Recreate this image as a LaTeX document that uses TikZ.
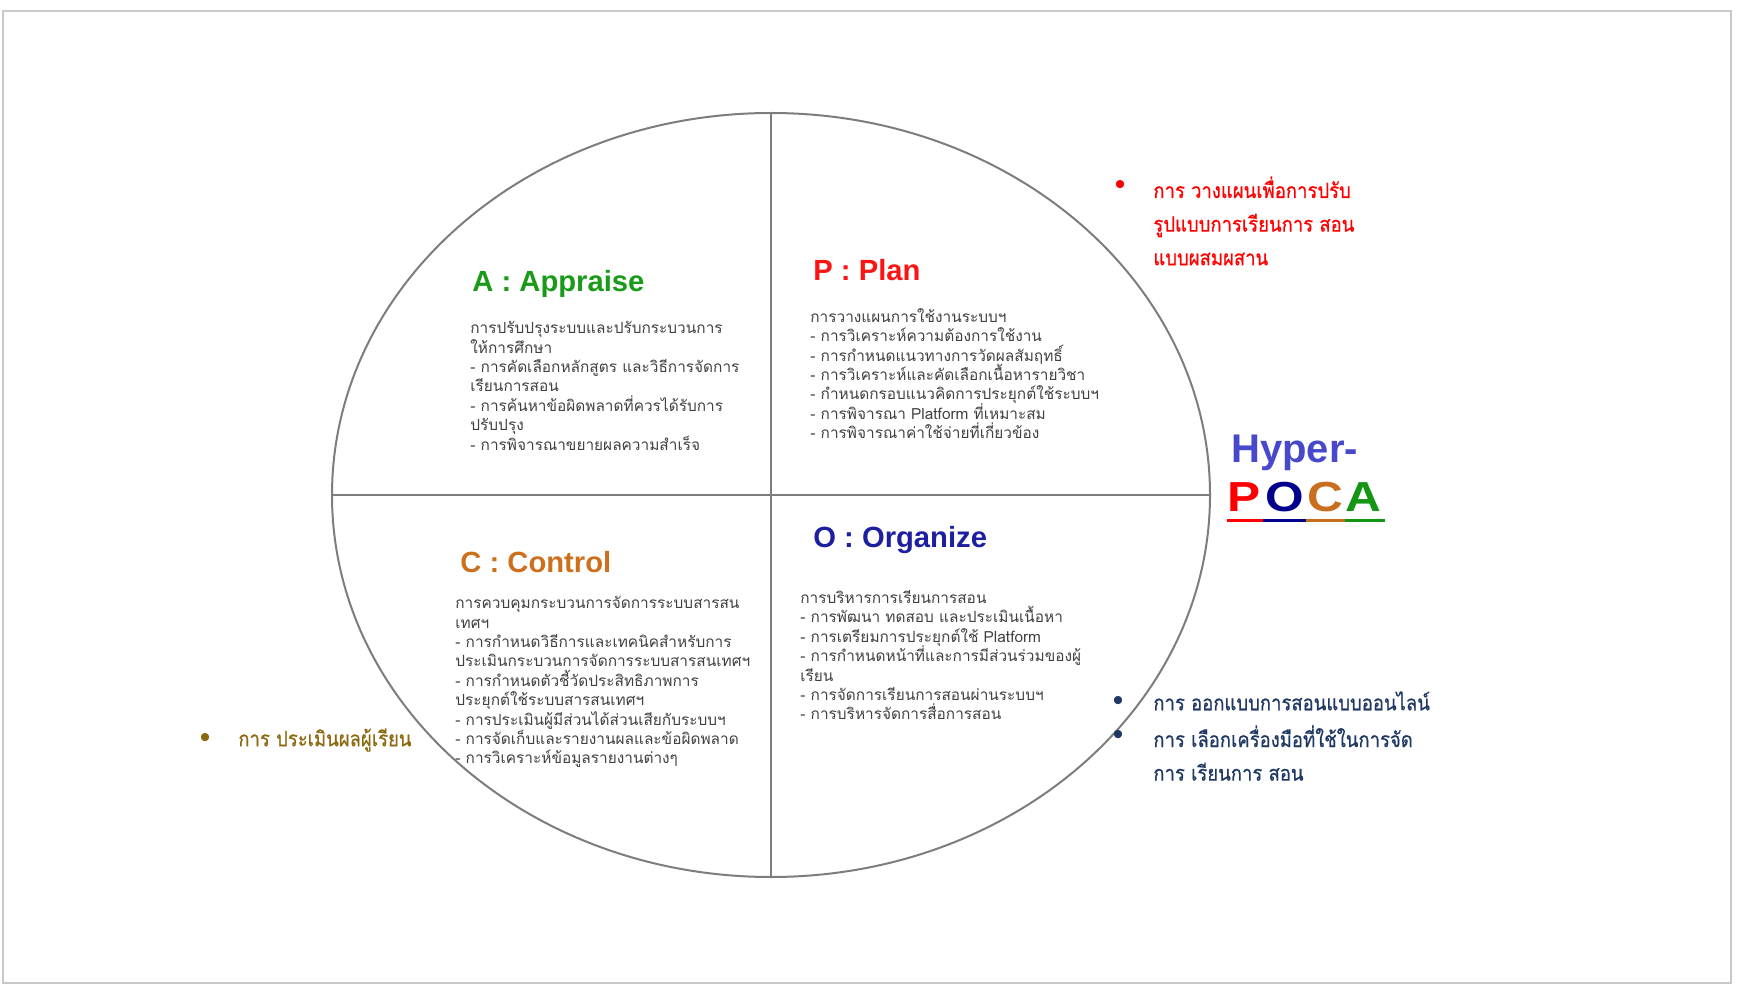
\documentclass[tikz,border=0pt]{standalone}
\usepackage{fontspec}
\setmainfont{Liberation Sans}
\newfontfamily\thai[Script=Thai]{Loma}
\newfontfamily\thaib[Script=Thai,FakeStretch=0.88,FakeBold=0.6]{Loma}
\newfontfamily\pocafont[FakeStretch=1.18]{Liberation Sans}
\usetikzlibrary{shapes.geometric}
\definecolor{framec}{RGB}{200,200,200}
\definecolor{linec}{RGB}{125,125,125}
\definecolor{cA}{RGB}{25,155,25}
\definecolor{cP}{RGB}{250,20,20}
\definecolor{cC}{RGB}{204,112,30}
\definecolor{cO}{RGB}{30,30,160}
\definecolor{bodyc}{RGB}{64,64,64}
\definecolor{hyperc}{RGB}{72,72,204}
\definecolor{pocaP}{RGB}{255,0,0}
\definecolor{pocaO}{RGB}{0,0,140}
\definecolor{pocaC}{RGB}{200,110,30}
\definecolor{pocaA}{RGB}{20,150,20}
\definecolor{redb}{RGB}{255,0,0}
\definecolor{blueb}{RGB}{31,56,100}
\definecolor{goldb}{RGB}{140,105,15}
\begin{document}
\lineskiplimit=-20pt
\lineskip=0pt
\begin{tikzpicture}[x=0.5pt,y=-0.5pt,
  head/.style={inner sep=0pt,anchor=west,font=\fontsize{14.6}{18}\selectfont\bfseries},
  bodytext/.style={inner sep=0pt,anchor=north west,align=left,text=bodyc,font=\thai\fontsize{7.7}{9.7}\selectfont},
  bultext/.style={inner sep=0pt,anchor=north west,align=left,font=\thaib\fontsize{10.5}{16.8}\selectfont},
  bulmark/.style={inner sep=0pt,font=\fontsize{15}{16}\selectfont},
  pocal/.style={inner sep=0pt,font=\pocafont\fontsize{21}{24}\selectfont\bfseries},
  uline/.style={line width=1.5pt}]
\useasboundingbox (0,0) rectangle (1738,989);
\draw[framec,line width=0.6pt] (3,11) rectangle (1731,983);
\node[draw=linec,line width=1pt,ellipse,minimum width=439pt,minimum height=382pt,inner sep=0pt] (E) at (771,495) {};
\draw[linec,line width=1pt] (E.north) -- (E.south);
\draw[linec,line width=1pt] (E.west) -- (E.east);

% headings
\node[head,text=cA] (hA) at (472,284) {A : Appraise};
\node[head,text=cP] (hP) at (813,270) {P : Plan};
\node[head,text=cC] (hC) at (460,562) {C : Control};
\node[head,text=cO] (hO) at (813,540) {O : Organize};

% bodies
\node[bodytext] (bA) at (470,321) {การปรับปรุงระบบและปรับกระบวนการ\\
ให้การศึกษา\\
- การคัดเลือกหลักสูตร และวิธีการจัดการ\\
เรียนการสอน\\
- การค้นหาข้อผิดพลาดที่ควรได้รับการ\\
ปรับปรุง\\
- การพิจารณาขยายผลความสำเร็จ};

\node[bodytext] (bP) at (810,308) {การวางแผนการใช้งานระบบฯ\\
- การวิเคราะห์ความต้องการใช้งาน\\
- การกำหนดแนวทางการวัดผลสัมฤทธิ์\\
- การวิเคราะห์และคัดเลือกเนื้อหารายวิชา\\
- กำหนดกรอบแนวคิดการประยุกต์ใช้ระบบฯ\\
- การพิจารณา Platform ที่เหมาะสม\\
- การพิจารณาค่าใช้จ่ายที่เกี่ยวข้อง};

\node[bodytext] (bC) at (455,596) {การควบคุมกระบวนการจัดการระบบสารสน\\
เทศฯ\\
- การกำหนดวิธีการและเทคนิคสำหรับการ\\
ประเมินกระบวนการจัดการระบบสารสนเทศฯ\\
- การกำหนดตัวชี้วัดประสิทธิภาพการ\\
ประยุกต์ใช้ระบบสารสนเทศฯ\\
- การประเมินผู้มีส่วนได้ส่วนเสียกับระบบฯ\\
- การจัดเก็บและรายงานผลและข้อผิดพลาด\\
- การวิเคราะห์ข้อมูลรายงานต่างๆ};

\node[bodytext] (bO) at (800,590) {การบริหารการเรียนการสอน\\
- การพัฒนา ทดสอบ และประเมินเนื้อหา\\
- การเตรียมการประยุกต์ใช้ Platform\\
- การกำหนดหน้าที่และการมีส่วนร่วมของผู้\\
เรียน\\
- การจัดการเรียนการสอนผ่านระบบฯ\\
- การบริหารจัดการสื่อการสอน};

% side bullets
\node[bulmark,text=redb] (r1) at (1120,188) {•};
\node[bultext,text=redb] (rt) at (1153,176) {การ วางแผนเพื่อการปรับ\\
รูปแบบการเรียนการ สอน\\
แบบผสมผสาน};

\node[bulmark,text=blueb] (u1) at (1118,703) {•};
\node[bulmark,text=blueb] (u2) at (1118,737) {•};
\node[bultext,text=blueb] (ut1) at (1153,691) {การ ออกแบบการสอนแบบออนไลน์};
\node[bultext,text=blueb] (ut2) at (1153,725) {การ เลือกเครื่องมือที่ใช้ในการจัด\\
การ เรียนการ สอน};

\node[bulmark,text=goldb] (g1) at (205,740) {•};
\node[bultext,text=goldb] (gt) at (238,728) {การ ประเมินผลผู้เรียน};

% Hyper-POCA
\node[inner sep=0pt,anchor=west,text=hyperc,font=\fontsize{20}{24}\selectfont\bfseries] (hy) at (1231,453) {Hyper-};
\node[pocal,text=pocaP] (lP) at (1244,497) {P};
\node[pocal,text=pocaO] (lO) at (1285,497) {O};
\node[pocal,text=pocaC] (lC) at (1325,497) {C};
\node[pocal,text=pocaA] (lA) at (1363,497) {A};
\coordinate (u0) at (1227,520);
\coordinate (ua) at (1263,520);
\coordinate (ub) at (1306,520);
\coordinate (uc) at (1345,520);
\coordinate (ud) at (1385,520);
\draw[uline,pocaP] (u0) -- (ua);
\draw[uline,pocaO] (ua) -- (ub);
\draw[uline,pocaC] (ub) -- (uc);
\draw[uline,pocaA] (uc) -- (ud);
\end{tikzpicture}
\end{document}
